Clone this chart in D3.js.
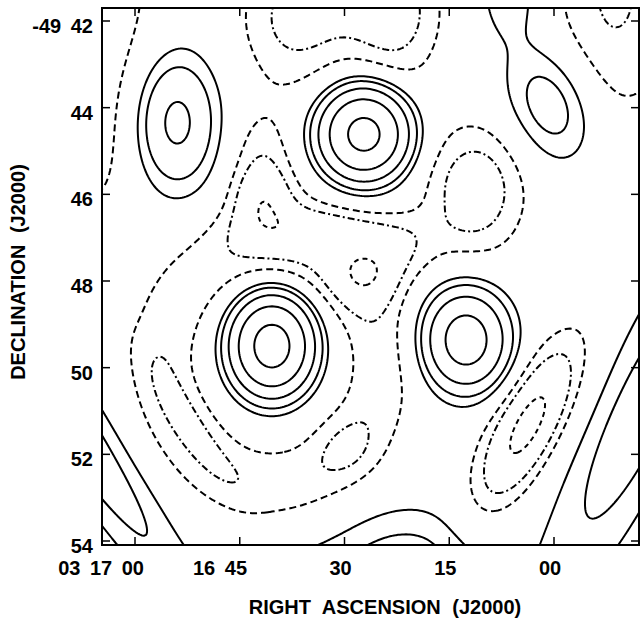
<!DOCTYPE html>
<html>
<head>
<meta charset="utf-8">
<script src="https://cdn.jsdelivr.net/npm/d3@7"></script>
<style>
  body { margin: 0; background: #fff; }
  text { font-family: "Liberation Sans", Arial, Helvetica, sans-serif; font-weight: bold; fill: #000; }
</style>
</head>
<body>
<svg id="chart" width="640" height="621"></svg>
<script>
// Axis ticks: right ascension in seconds after 03h16m00s, declination in arcmin south of -49°
const raTicks = [60, 45, 30, 15, 0];
const raLabels = ["03 17 00", "16 45", "30", "15", "00"];
const decTicks = [42, 44, 46, 48, 50, 52, 54];
const decLabels = ["-49 42", "44", "46", "48", "50", "52", "54"];

// Brightness model: elliptical Gaussian (ring = 0) or elliptical ring components
// RA (s after 03h16m), Dec (arcmin below -49°), peak, sigma E-W / N-S (arcsec), rotation (deg), ring radius (in sigmas)
const compRA   = [27.22, 40.40, 12.61, 54.15, 0.57, 6.30, 71.49, -12.32, 20.63, 36.39,
                  37.11, 22.78, 28.51, 67.19, -8.74,
                  40.40, 52.15, 29.94, 41.83, 41.83, 26.65, 31.38, 36.39, 21.35, 65.76, 11.32, 3.72];
const compDec  = [44.61, 49.50, 49.36, 44.33, 43.94, 41.33, 50.75, 51.00, 54.55, 55.02,
                  42.02, 41.98, 41.52, 41.98, 41.40,
                  49.94, 51.21, 51.83, 46.13, 45.39, 47.79, 46.78, 46.82, 47.29, 44.98, 45.90, 51.32];
const compAmp  = [19.4, 21.0, 11.0, 4.7, 3.0, 1.8, 3.0, 2.72, 2.6, 1.4,
                  -2.2, -2.2, -1.2, -2.1, -2.15,
                  -1.7, -0.9, -0.8, -1.75, -1.8, -2.7, -1.6, -0.6, -1.2, -0.4, -2.95, -4.6];
const compSigX = [36.0, 33.2, 36.0, 38.8, 38.8, 30.5, 33.2, 45.7, 76.2, 83.1,
                  52.6, 44.3, 62.3, 66.5, 62.3,
                  37.4, 19.4, 30.5, 30.5, 30.5, 36.0, 83.1, 55.4, 34.6, 30.5, 47.1, 30.5];
const compSigY = [37.4, 40.2, 42.9, 63.7, 58.2, 48.5, 249.3, 207.8, 55.4, 41.6,
                  66.5, 66.5, 41.6, 173.1, 121.9,
                  40.9, 76.2, 30.5, 30.5, 55.4, 33.2, 22.2, 48.5, 27.7, 62.3, 60.9, 85.9];
const compRot  = [0, 0, 0, 0, -22, 0, -34, 25, 0, 0,
                  0, 0, 0, 0, 0,
                  0, -34, 0, 0, 0, 0, 0, 0, 0, 0, 0, 28];
const compRing = [0, 0, 0, 0, 0, 0, 0, 0, 0, 0,
                  0, 0, 0, 0, 0,
                  4, 0, 0, 0, 0, 0, 0, 0, 0, 0, 0, 0];

// Contour levels (negative dashed, positive solid)
const levels = [-4, -2, -1, 1, 2, 4, 8, 16];

const svg = d3.select("#chart");
const frame = { left: 102, right: 639, top: 8, bottom: 545 };

const x = d3.scaleLinear().domain([60, 0]).range([135, 554]);
const y = d3.scaleLinear().domain([42, 54]).range([21, 541]);

const cosDec = Math.cos((49 + 48 / 60) * Math.PI / 180);

function brightness(ra, dec) {
  let v = 0;
  for (let k = 0; k < compRA.length; k++) {
    const dx = (compRA[k] - ra) * 15 * cosDec;   // arcsec, west positive
    const dy = (dec - compDec[k]) * 60;           // arcsec, south positive
    const t = compRot[k] * Math.PI / 180;
    const u = dx * Math.cos(t) + dy * Math.sin(t);
    const w = -dx * Math.sin(t) + dy * Math.cos(t);
    const q = Math.sqrt(u * u / (compSigX[k] ** 2) + w * w / (compSigY[k] ** 2)) - compRing[k];
    v += compAmp[k] * Math.exp(-0.5 * q * q);
  }
  return v;
}

// Sample the model on a grid slightly larger than the plotting frame
const step = 2;
const gx0 = frame.left - 12, gy0 = frame.top - 12;
const nx = Math.ceil((frame.right - frame.left + 24) / step) + 1;
const ny = Math.ceil((frame.bottom - frame.top + 24) / step) + 1;
const values = new Float64Array(nx * ny);
for (let j = 0; j < ny; j++) {
  for (let i = 0; i < nx; i++) {
    values[j * nx + i] = brightness(x.invert(gx0 + i * step), y.invert(gy0 + j * step));
  }
}

const contours = d3.contours().size([nx, ny]).thresholds(levels)(values);
const path = d3.geoPath(d3.geoTransform({
  point(px, py) { this.stream.point(gx0 + (px - 0.5) * step, gy0 + (py - 0.5) * step); }
}));

svg.append("clipPath").attr("id", "clip")
  .append("rect")
  .attr("x", frame.left).attr("y", frame.top)
  .attr("width", frame.right - frame.left).attr("height", frame.bottom - frame.top);

const dashFor = v => v === -1 ? "7,4" : v === -2 ? "7,3,2,3" : v === -4 ? "5,4" : null;

svg.append("g").attr("clip-path", "url(#clip)")
  .selectAll("path").data(contours).join("path")
  .attr("d", path)
  .attr("fill", "none")
  .attr("stroke", "#000")
  .attr("stroke-width", 2)
  .attr("stroke-linejoin", "round")
  .attr("stroke-dasharray", d => dashFor(d.value));

// Frame
svg.append("rect")
  .attr("x", frame.left).attr("y", frame.top)
  .attr("width", frame.right - frame.left).attr("height", frame.bottom - frame.top)
  .attr("fill", "none").attr("stroke", "#000").attr("stroke-width", 2);

// Inward ticks on all four sides
const tickLen = 8;
const ticks = svg.append("g").attr("stroke", "#000").attr("stroke-width", 1.5);
raTicks.forEach(t => {
  ticks.append("line").attr("x1", x(t)).attr("x2", x(t)).attr("y1", frame.bottom).attr("y2", frame.bottom - tickLen);
  ticks.append("line").attr("x1", x(t)).attr("x2", x(t)).attr("y1", frame.top).attr("y2", frame.top + tickLen);
});
decTicks.forEach(t => {
  ticks.append("line").attr("y1", y(t)).attr("y2", y(t)).attr("x1", frame.left).attr("x2", frame.left + tickLen);
  ticks.append("line").attr("y1", y(t)).attr("y2", y(t)).attr("x1", frame.right).attr("x2", frame.right - tickLen);
});

// Tick labels
svg.append("g").selectAll("text").data(raTicks).join("text")
  .attr("x", (d, i) => i === 0 ? 144 : (i === 1 ? 220 : x(d) - 4))
  .attr("y", 575)
  .attr("text-anchor", (d, i) => i === 0 ? "end" : "middle")
  .style("font-size", "20px").style("word-spacing", "4px")
  .text((d, i) => raLabels[i]);

svg.append("g").selectAll("text").data(decTicks).join("text")
  .attr("x", 93).attr("y", d => y(d) + 12)
  .attr("text-anchor", "end")
  .style("font-size", "20px").style("word-spacing", "4px")
  .text((d, i) => decLabels[i]);

// Axis titles
svg.append("text").attr("x", 385).attr("y", 614).attr("text-anchor", "middle")
  .style("font-size", "20px").style("word-spacing", "6px")
  .text("RIGHT ASCENSION (J2000)");

svg.append("text").attr("transform", "translate(25,272) rotate(-90)").attr("text-anchor", "middle")
  .style("font-size", "20px").style("word-spacing", "6px")
  .text("DECLINATION (J2000)");
</script>
</body>
</html>
